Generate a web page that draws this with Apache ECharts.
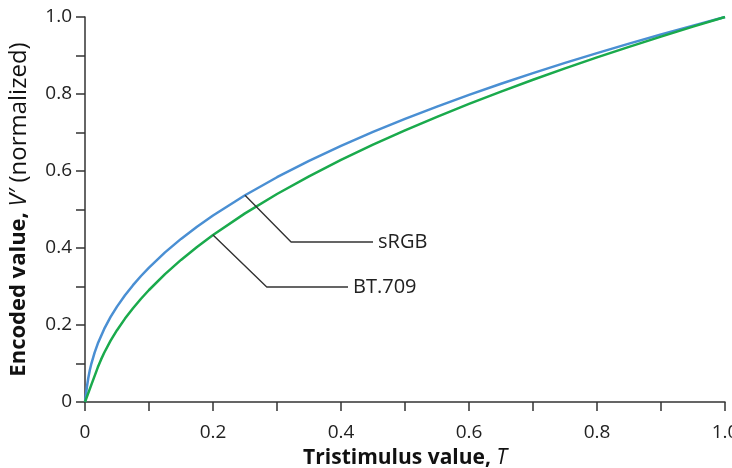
<!DOCTYPE html>
<html>
<head>
<meta charset="utf-8">
<script src="https://cdn.jsdelivr.net/npm/echarts@6/dist/echarts.min.js"></script>
<style>html,body{margin:0;padding:0;background:#fff}#c{width:732px;height:468px}</style>
</head>
<body>
<div id="c"></div>
<script>
// Tristimulus samples and encoded values
var T_srgb = [0, 0.001, 0.002, 0.0031, 0.005, 0.0075, 0.01, 0.015, 0.02, 0.03, 0.04, 0.05, 0.0625, 0.075, 0.0875, 0.1, 0.125, 0.15, 0.175, 0.2, 0.25, 0.3, 0.35, 0.4, 0.45, 0.5, 0.55, 0.6, 0.65, 0.7, 0.75, 0.8, 0.85, 0.9, 0.95, 1.0];
var V_srgb = [0, 0.0129, 0.0258, 0.0404, 0.0611, 0.0823, 0.0999, 0.1284, 0.1517, 0.1898, 0.2209, 0.2478, 0.2773, 0.3035, 0.3273, 0.3492, 0.3886, 0.4236, 0.4553, 0.4845, 0.5371, 0.5838, 0.6262, 0.6652, 0.7014, 0.7354, 0.7673, 0.7977, 0.8267, 0.8543, 0.8808, 0.9063, 0.9309, 0.9547, 0.9777, 1.0];
var T_bt709 = [0, 0.01, 0.018, 0.02, 0.025, 0.03, 0.04, 0.05, 0.0625, 0.075, 0.0875, 0.1, 0.125, 0.15, 0.175, 0.2, 0.25, 0.3, 0.35, 0.4, 0.45, 0.5, 0.55, 0.6, 0.65, 0.7, 0.75, 0.8, 0.85, 0.9, 0.95, 1.0];
var V_bt709 = [0, 0.045, 0.081, 0.0900, 0.1100, 0.1279, 0.1592, 0.1865, 0.2166, 0.2436, 0.2682, 0.2909, 0.3321, 0.3690, 0.4026, 0.4337, 0.4899, 0.5403, 0.5862, 0.6287, 0.6683, 0.7055, 0.7408, 0.7743, 0.8063, 0.8370, 0.8666, 0.8950, 0.9225, 0.9491, 0.9749, 1.0];
// Leader-line annotations (data coordinates)
var leaderSrgbT = [0.25, 0.322, 0.45];
var leaderSrgbV = [0.5371, 0.4156, 0.4156];
var leaderBtT = [0.2, 0.284, 0.411];
var leaderBtV = [0.4337, 0.2987, 0.2987];
var seriesNames = ['sRGB', 'BT.709'];

function pairs(a, b) { return a.map(function (v, i) { return [v, b[i]]; }); }
function fmt(v) {
  var k = Math.round(v * 10);
  if (k % 2 !== 0) return '';
  return k === 0 ? '0' : (k / 10).toFixed(1);
}
var FONT = '"Open Sans", "DejaVu Sans", sans-serif';
var axisCommon = {
  type: 'value', min: 0, max: 1, interval: 0.1,
  axisLine: { show: true, onZero: false, lineStyle: { color: '#333', width: 1.5 } },
  axisTick: { show: true, inside: false, length: 9, lineStyle: { color: '#333', width: 1.5 } },
  splitLine: { show: false },
  axisLabel: { formatter: fmt, color: '#222', fontSize: 19, fontFamily: FONT }
};
var chart = echarts.init(document.getElementById('c'), null, { renderer: 'canvas' });
chart.setOption({
  animation: false,
  backgroundColor: '#fff',
  grid: { left: 85, right: 7, top: 17, bottom: 66, containLabel: false, outerBoundsMode: 'none' },
  xAxis: Object.assign({}, axisCommon, {
    axisLabel: Object.assign({}, axisCommon.axisLabel, { margin: 21 }),
    name: '{b|Tristimulus value, }{i|T}',
    nameLocation: 'middle', nameGap: 46,
    nameTextStyle: {
      rich: {
        b: { fontSize: 21, fontWeight: 'bold', fontFamily: FONT, color: '#111' },
        i: { fontSize: 21, fontStyle: 'italic', fontFamily: FONT, color: '#111' }
      }
    }
  }),
  yAxis: Object.assign({}, axisCommon, {
    axisLabel: Object.assign({}, axisCommon.axisLabel, { margin: 13 }),
    name: '{b|Encoded value, }{i|V\u2032}{r| (normalized)}',
    nameLocation: 'middle', nameGap: 54,
    nameTextStyle: {
      rich: {
        b: { fontSize: 22, fontWeight: 'bold', fontFamily: FONT, color: '#111' },
        i: { fontSize: 23, fontStyle: 'italic', fontFamily: FONT, color: '#111' },
        r: { fontSize: 24, fontFamily: FONT, color: '#111' }
      }
    }
  }),
  series: [
    { name: seriesNames[0], type: 'line', data: pairs(T_srgb, V_srgb),
      symbol: 'none', lineStyle: { color: '#4a8fd3', width: 2.5, join: 'round' }, z: 3 },
    { name: seriesNames[1], type: 'line', data: pairs(T_bt709, V_bt709),
      symbol: 'none', lineStyle: { color: '#1aaa4c', width: 2.5, join: 'round' }, z: 4 },
    { type: 'line', data: pairs(leaderSrgbT, leaderSrgbV), symbol: 'none', silent: true,
      lineStyle: { color: '#333', width: 1.4 }, z: 5,
      endLabel: { show: true, formatter: seriesNames[0], distance: 5, color: '#222', fontSize: 20, fontFamily: FONT } },
    { type: 'line', data: pairs(leaderBtT, leaderBtV), symbol: 'none', silent: true,
      lineStyle: { color: '#333', width: 1.4 }, z: 5,
      endLabel: { show: true, formatter: seriesNames[1], distance: 5, color: '#222', fontSize: 20, fontFamily: FONT } }
  ]
});
</script>
</body>
</html>
